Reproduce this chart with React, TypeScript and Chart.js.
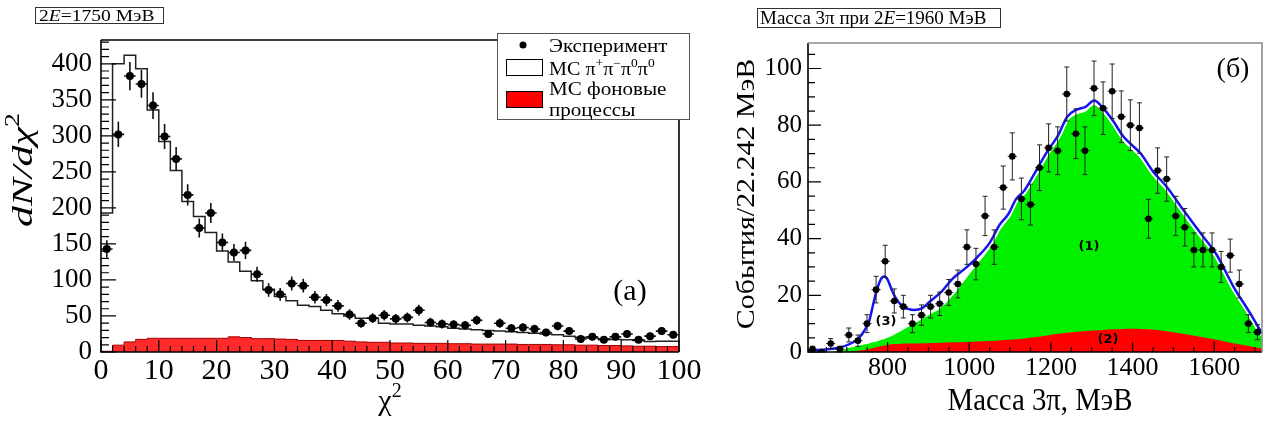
import { useEffect, useRef } from 'react';
import { Chart, registerables } from 'chart.js';

Chart.register(...registerables);

// ---------------- Panel (a): chi^2 distribution, 2E = 1750 MeV ----------------
const chi2Centers = [
  1, 3, 5, 7, 9, 11, 13, 15, 17, 19, 21, 23, 25, 27, 29, 31, 33, 35, 37, 39,
  41, 43, 45, 47, 49, 51, 53, 55, 57, 59, 61, 63, 65, 67, 69, 71, 73, 75, 77, 79,
  81, 83, 85, 87, 89, 91, 93, 95, 97, 99,
];
const chi2Ticks = [0, 10, 20, 30, 40, 50, 60, 70, 80, 90, 100];
const dndchi2Ticks = [0, 50, 100, 150, 200, 250, 300, 350, 400];
const experimentA = [
  143, 302, 383, 372, 342, 299, 268, 218, 172, 193, 152, 138, 141, 108, 86, 80, 95, 92, 76, 72,
  64, 52, 40, 47, 51, 46, 48, 58, 41, 39, 38, 37, 44, 25, 40, 33, 34, 32, 27, 36,
  29, 18, 21, 17, 21, 25, 17, 22, 29, 24,
];
const mcSignalA = [
  193, 400, 412, 393, 336, 292, 252, 209, 188, 166, 140, 125, 112, 99, 87, 77, 71, 65, 63, 58,
  53, 50, 47, 47, 40, 39, 39, 37, 36, 35, 33, 32, 31, 30, 29, 28, 27, 26, 25, 24,
  22, 20.5, 19.5, 18.5, 17.5, 17, 16, 14.5, 15, 15,
];
const mcBackgroundA = [
  1, 9.5, 14, 17.5, 19, 19, 19, 19, 19, 19, 19, 21, 20, 18.5, 18.5, 18, 17.5, 16, 16, 16,
  16, 15, 14, 13.5, 13.5, 12.5, 12.5, 12, 12, 12, 11.5, 11.5, 11, 11, 11, 11, 10.5, 10.5, 10.5, 10,
  10, 9.5, 9.5, 9, 9, 8.5, 8, 8, 7.5, 7.5,
];

// ---------------- Panel (б): 3pi mass, 2E = 1960 MeV ----------------
const MASS_MIN = 605;
const BIN_WIDTH = 22.242;
const massTicks = [800, 1000, 1200, 1400, 1600];
const eventsTicks = [0, 20, 40, 60, 80, 100];
const events3pi = [
  1, 0, 3, 1, 6, 4, 10, 22, 32, 18, 16, 10, 13, 16, 17, 21, 24, 37, 31, 48,
  37, 58, 69, 54, 52, 65, 72, 71, 91, 77, 71, 93, 86, 92, 83, 80, 79, 47, 64, 61,
  48, 44, 36, 36, 36, 30, 34, 24, 10, 7,
];
const curveMass = [
  605, 640, 680, 710, 730, 745, 755, 765, 775, 785, 792, 800, 810, 820, 835, 850, 865, 885, 905, 930,
  960, 990, 1020, 1050, 1075, 1095, 1115, 1135, 1160, 1190, 1218, 1240, 1263, 1285, 1306, 1328, 1353, 1377, 1400, 1420,
  1450, 1483, 1524, 1565, 1606, 1647, 1688, 1717,
];
const fitTotal = [
  0.5, 0.8, 1.5, 3, 5, 8, 11, 17, 22.5, 26, 26.6, 25.5, 22, 19, 16.3, 15.2, 14.8, 15.5, 18, 21,
  26, 29.5, 33.5, 38.5, 45, 48.5, 54, 57, 63, 70.5, 76.5, 83, 85.5, 86.5, 88.7, 86, 81.4, 76.1, 72.8, 70,
  63.7, 58.4, 50.2, 42.2, 34.3, 23.1, 13.7, 6.5,
];
const fitPhaseSpace = [
  0.3, 0.5, 1.0, 1.6, 2.2, 2.7, 3.0, 3.4, 3.8, 4.3, 4.6, 5.0, 5.6, 6.4, 7.6, 8.8, 10, 11.7, 13.3, 15.5,
  20, 25.5, 31, 36.5, 43, 46.8, 52.3, 55.3, 61.3, 68.8, 74.8, 81.3, 83.8, 84.8, 87, 84.3, 79.7, 74.4, 71.1, 68.3,
  62, 56.7, 48.5, 40.5, 32.6, 21.4, 12, 5,
];
const fitBackground = [
  0, 0, 0, 0.2, 0.5, 0.8, 1.1, 1.4, 1.8, 2.1, 2.3, 2.5, 2.7, 2.8, 2.9, 3.0, 3.0, 3.1, 3.2, 3.3,
  3.4, 3.5, 3.7, 3.9, 4.1, 4.3, 4.5, 4.8, 5.2, 5.8, 6.4, 6.8, 7.1, 7.4, 7.6, 7.8, 8.0, 8.1, 8.2, 8.1,
  7.9, 7.3, 6.4, 5.4, 4.3, 3.1, 2.0, 1.2,
];

const FONT = "'Liberation Serif', 'Times New Roman', serif";

type Seg = { t: string; it?: boolean; sup?: boolean };
type RichOpts = { align?: 'left' | 'center'; sx?: number; sy?: number; rot?: number; color?: string };

function richText(ctx: CanvasRenderingContext2D, segs: Seg[], x: number, y: number, size: number, o: RichOpts = {}) {
  const { align = 'left', sx = 1, sy = 1, rot = 0, color = '#000' } = o;
  const fontFor = (s: Seg) => `${s.it ? 'italic ' : ''}${s.sup ? Math.round(size * 0.65) : size}px ${FONT}`;
  ctx.save();
  let W = 0;
  const ws = segs.map((s) => {
    ctx.font = fontFor(s);
    const w = ctx.measureText(s.t).width;
    W += w;
    return w;
  });
  ctx.translate(x, y);
  ctx.rotate(rot);
  ctx.scale(sx, sy);
  ctx.fillStyle = color;
  ctx.textBaseline = 'alphabetic';
  ctx.textAlign = 'left';
  let cx = align === 'center' ? -W / 2 : 0;
  segs.forEach((s, i) => {
    ctx.font = fontFor(s);
    ctx.fillText(s.t, cx, s.sup ? -size * 0.42 : 0);
    cx += ws[i];
  });
  ctx.restore();
}

function histPoints(vals: number[]) {
  const pts: { x: number; y: number }[] = [];
  vals.forEach((v, i) => {
    pts.push({ x: chi2Centers[i] - 1, y: v });
    pts.push({ x: chi2Centers[i] + 1, y: v });
  });
  return pts;
}

function errorBars(index: number, xs: number[], ys: number[], halfW: number, caps: number, color: string, lw: number) {
  return {
    id: 'errorBars' + index,
    beforeDatasetDraw(chart: any, args: any) {
      if (args.index !== index) return;
      const { ctx, scales } = chart;
      const sx = scales.x;
      const sy = scales.y;
      ctx.save();
      ctx.strokeStyle = color;
      ctx.lineWidth = lw;
      ctx.beginPath();
      xs.forEach((xv, i) => {
        const v = ys[i];
        const e = Math.sqrt(v);
        const px = sx.getPixelForValue(xv);
        const py = sy.getPixelForValue(v);
        if (e > 0) {
          const t = sy.getPixelForValue(v + e);
          const b = sy.getPixelForValue(Math.max(v - e, 0));
          ctx.moveTo(px, t);
          ctx.lineTo(px, b);
          if (caps > 0) {
            ctx.moveTo(px - caps, t);
            ctx.lineTo(px + caps, t);
            ctx.moveTo(px - caps, b);
            ctx.lineTo(px + caps, b);
          }
        }
        ctx.moveTo(sx.getPixelForValue(xv - halfW), py);
        ctx.lineTo(sx.getPixelForValue(xv + halfW), py);
      });
      ctx.stroke();
      ctx.restore();
    },
  };
}

type TickCfg = {
  xMajor: number[]; xMinor: number[]; yMajor: number[]; yMinor: number[];
  xMajLen: number; xMinLen: number; yMajLen: number; yMinLen: number;
  topRightColor: string;
};

function frameTicks(c: TickCfg) {
  return {
    id: 'frameTicks',
    afterDatasetsDraw(chart: any) {
      const { ctx, chartArea: a, scales } = chart;
      ctx.save();
      ctx.strokeStyle = '#000';
      ctx.lineWidth = 1.2;
      ctx.beginPath();
      c.xMajor.forEach((v) => { const p = scales.x.getPixelForValue(v); ctx.moveTo(p, a.bottom); ctx.lineTo(p, a.bottom - c.xMajLen); });
      c.xMinor.forEach((v) => { const p = scales.x.getPixelForValue(v); ctx.moveTo(p, a.bottom); ctx.lineTo(p, a.bottom - c.xMinLen); });
      c.yMajor.forEach((v) => { const p = scales.y.getPixelForValue(v); ctx.moveTo(a.left, p); ctx.lineTo(a.left + c.yMajLen, p); });
      c.yMinor.forEach((v) => { const p = scales.y.getPixelForValue(v); ctx.moveTo(a.left, p); ctx.lineTo(a.left + c.yMinLen, p); });
      ctx.stroke();
      ctx.lineWidth = 1.6;
      ctx.beginPath();
      ctx.moveTo(a.left, a.top);
      ctx.lineTo(a.left, a.bottom);
      ctx.lineTo(a.right, a.bottom);
      ctx.stroke();
      ctx.strokeStyle = c.topRightColor;
      ctx.beginPath();
      ctx.moveTo(a.left, a.top);
      ctx.lineTo(a.right, a.top);
      ctx.lineTo(a.right, a.bottom);
      ctx.stroke();
      ctx.restore();
    },
  };
}

const range = (from: number, to: number, step: number) => {
  const out: number[] = [];
  for (let v = from; v <= to + 1e-9; v += step) out.push(v);
  return out;
};

function axisCommon(ticksArr: number[], size: number, padding: number, fit: (s: any) => void, min: number, max: number) {
  return {
    type: 'linear' as const,
    min,
    max,
    afterBuildTicks: (s: any) => { s.ticks = ticksArr.map((v) => ({ value: v })); },
    afterFit: fit,
    grid: { display: false, drawTicks: false },
    border: { display: false },
    ticks: {
      autoSkip: false,
      maxRotation: 0,
      padding,
      color: '#000',
      font: { family: FONT, size },
      callback: (v: any) => String(v),
    },
  };
}

export default function App() {
  const leftRef = useRef<HTMLCanvasElement | null>(null);
  const rightRef = useRef<HTMLCanvasElement | null>(null);

  useEffect(() => {
    const leftAnno = {
      id: 'leftAnno',
      afterDraw(chart: any) {
        const ctx: CanvasRenderingContext2D = chart.ctx;
        ctx.save();
        // title box
        ctx.fillStyle = '#fff';
        ctx.fillRect(35, 7, 128, 16);
        ctx.strokeStyle = '#333';
        ctx.lineWidth = 1;
        ctx.strokeRect(35.5, 7.5, 128, 16);
        richText(ctx, [{ t: '2' }, { t: 'E', it: true }, { t: '=1750 МэВ' }], 39, 20.5, 17, { sx: 1.15 });
        // legend
        ctx.fillStyle = '#fff';
        ctx.fillRect(497, 33, 193, 87);
        ctx.strokeStyle = '#555';
        ctx.lineWidth = 1;
        ctx.strokeRect(497.5, 33.5, 192, 86);
        ctx.fillStyle = '#000';
        ctx.beginPath();
        ctx.arc(523, 45, 3.5, 0, Math.PI * 2);
        ctx.fill();
        richText(ctx, [{ t: 'Эксперимент' }], 549, 51.5, 18, { sx: 1.17 });
        ctx.strokeStyle = '#000';
        ctx.strokeRect(506.5, 59.5, 36, 16);
        richText(ctx, [
          { t: 'МС π' }, { t: '+', sup: true }, { t: 'π' }, { t: '−', sup: true },
          { t: 'π' }, { t: '0', sup: true }, { t: 'π' }, { t: '0', sup: true },
        ], 549, 75, 18, { sx: 1.12 });
        ctx.fillStyle = '#ff0000';
        ctx.fillRect(506.5, 91.5, 36, 16);
        ctx.strokeRect(506.5, 91.5, 36, 16);
        richText(ctx, [{ t: 'МС фоновые' }], 549, 95, 18, { sx: 1.17 });
        richText(ctx, [{ t: 'процессы' }], 549, 115.5, 18, { sx: 1.17 });
        // panel label
        richText(ctx, [{ t: '(a)' }], 630, 300, 30, { align: 'center' });
        // axis titles
        richText(ctx, [{ t: 'dN/dχ', it: true }, { t: '2', sup: true }], 32, 170, 30, { align: 'center', rot: -Math.PI / 2, sx: 1.4 });
        richText(ctx, [{ t: 'χ' }, { t: '2', sup: true }], 390, 410, 30, { align: 'center' });
        ctx.restore();
      },
    };

    const OFF = 700;
    const rightAnno = {
      id: 'rightAnno',
      afterDraw(chart: any) {
        const ctx: CanvasRenderingContext2D = chart.ctx;
        ctx.save();
        ctx.translate(-OFF, 0);
        ctx.fillStyle = '#fff';
        ctx.fillRect(757, 8, 243, 19);
        ctx.strokeStyle = '#333';
        ctx.lineWidth = 1;
        ctx.strokeRect(757.5, 8.5, 243, 19);
        richText(ctx, [{ t: 'Масса 3π при 2' }, { t: 'E', it: true }, { t: '=1960 МэВ' }], 760, 24, 19, { sx: 1.0 });
        richText(ctx, [{ t: 'События/22.242 МэВ' }], 754, 194, 26, { align: 'center', rot: -Math.PI / 2, sx: 1.15 });
        richText(ctx, [{ t: 'Масса 3π, МэВ' }], 1040, 410, 32, { align: 'center', sx: 0.9 });
        richText(ctx, [{ t: '(б)' }], 1233, 77, 28, { align: 'center' });
        ctx.fillStyle = '#000';
        ctx.font = "bold 13px 'DejaVu Sans', sans-serif";
        ctx.textAlign = 'center';
        ctx.textBaseline = 'middle';
        ctx.fillText('(1)', 1089, 247);
        ctx.fillText('(2)', 1108, 340);
        ctx.fillText('(3)', 886, 322);
        ctx.restore();
      },
    };

    const left = new Chart(leftRef.current as HTMLCanvasElement, {
      type: 'line',
      data: {
        datasets: [
          {
            data: chi2Centers.map((c, i) => ({ x: c, y: experimentA[i] })),
            showLine: false,
            pointRadius: 4,
            pointBackgroundColor: '#000',
            pointBorderWidth: 0,
            order: 0,
          },
          {
            data: histPoints(mcSignalA),
            borderColor: '#222',
            borderWidth: 1.5,
            pointRadius: 0,
            tension: 0,
            fill: false,
            order: 1,
          },
          {
            data: histPoints(mcBackgroundA),
            borderColor: '#a00000',
            borderWidth: 1,
            backgroundColor: '#ff2a2a',
            pointRadius: 0,
            tension: 0,
            fill: 'origin',
            order: 2,
          },
        ] as any,
      },
      options: {
        responsive: false,
        animation: false,
        events: [],
        layout: { padding: { left: 0, right: 61, top: 40, bottom: 0 } },
        plugins: { legend: { display: false }, tooltip: { enabled: false }, title: { display: false } },
        scales: {
          x: axisCommon(chi2Ticks, 30, 1, (s: any) => { s.height = 71; }, 0, 100) as any,
          y: axisCommon(dndchi2Ticks, 27, 9, (s: any) => { s.width = 101; }, 0, 433) as any,
        },
      },
      plugins: [
        errorBars(0, chi2Centers, experimentA, 1, 0, '#111', 1.6),
        frameTicks({
          xMajor: chi2Ticks, xMinor: range(0, 100, 2), yMajor: dndchi2Ticks, yMinor: range(0, 430, 10),
          xMajLen: 12, xMinLen: 6, yMajLen: 15, yMinLen: 8, topRightColor: '#000',
        }),
        leftAnno,
      ],
    });

    const massCenters = events3pi.map((_, i) => MASS_MIN + BIN_WIDTH * (i + 0.5));
    const MASS_MAX = MASS_MIN + BIN_WIDTH * events3pi.length;
    const curve = (vals: number[]) => curveMass.map((m, i) => ({ x: m, y: vals[i] }));

    const right = new Chart(rightRef.current as HTMLCanvasElement, {
      type: 'line',
      data: {
        datasets: [
          {
            data: massCenters.map((m, i) => ({ x: m, y: events3pi[i] })),
            showLine: false,
            pointRadius: 3.3,
            pointBackgroundColor: '#000',
            pointBorderWidth: 0,
            order: 0,
          },
          {
            data: curve(fitTotal),
            borderColor: '#1414f0',
            borderWidth: 2.5,
            pointRadius: 0,
            cubicInterpolationMode: 'monotone',
            fill: false,
            order: 1,
          },
          {
            data: curve(fitTotal),
            borderColor: '#ffffff',
            borderWidth: 6,
            pointRadius: 0,
            cubicInterpolationMode: 'monotone',
            fill: false,
            order: 2,
          },
          {
            data: curve(fitBackground),
            borderColor: 'rgba(0,0,0,0)',
            borderWidth: 0,
            backgroundColor: '#ff0000',
            pointRadius: 0,
            cubicInterpolationMode: 'monotone',
            fill: 'origin',
            order: 3,
          },
          {
            data: curve(fitPhaseSpace),
            borderColor: 'rgba(0,0,0,0)',
            borderWidth: 0,
            backgroundColor: '#00f000',
            pointRadius: 0,
            cubicInterpolationMode: 'monotone',
            fill: 'origin',
            order: 4,
          },
        ] as any,
      },
      options: {
        responsive: false,
        animation: false,
        events: [],
        layout: { padding: { left: 0, right: 7, top: 43, bottom: 0 } },
        plugins: { legend: { display: false }, tooltip: { enabled: false }, title: { display: false } },
        scales: {
          x: axisCommon(massTicks, 26, 1, (s: any) => { s.height = 71; }, MASS_MIN, MASS_MAX) as any,
          y: axisCommon(eventsTicks, 25, 6, (s: any) => { s.width = 108; }, 0, 109) as any,
        },
      },
      plugins: [
        errorBars(0, massCenters, events3pi, BIN_WIDTH / 2, 2.5, '#222', 1),
        frameTicks({
          xMajor: massTicks, xMinor: range(650, 1700, 50), yMajor: eventsTicks, yMinor: range(0, 105, 5),
          xMajLen: 10, xMinLen: 5, yMajLen: 13, yMinLen: 7, topRightColor: '#8a8a8a',
        }),
        rightAnno,
      ],
    });

    return () => {
      left.destroy();
      right.destroy();
    };
  }, []);

  return (
    <div style={{ position: 'absolute', left: 0, top: 0, width: 1269, height: 423, background: '#fff', overflow: 'hidden' }}>
      <canvas ref={leftRef} width={740} height={423} style={{ position: 'absolute', left: 0, top: 0 }} />
      <canvas ref={rightRef} width={569} height={423} style={{ position: 'absolute', left: 700, top: 0 }} />
    </div>
  );
}
